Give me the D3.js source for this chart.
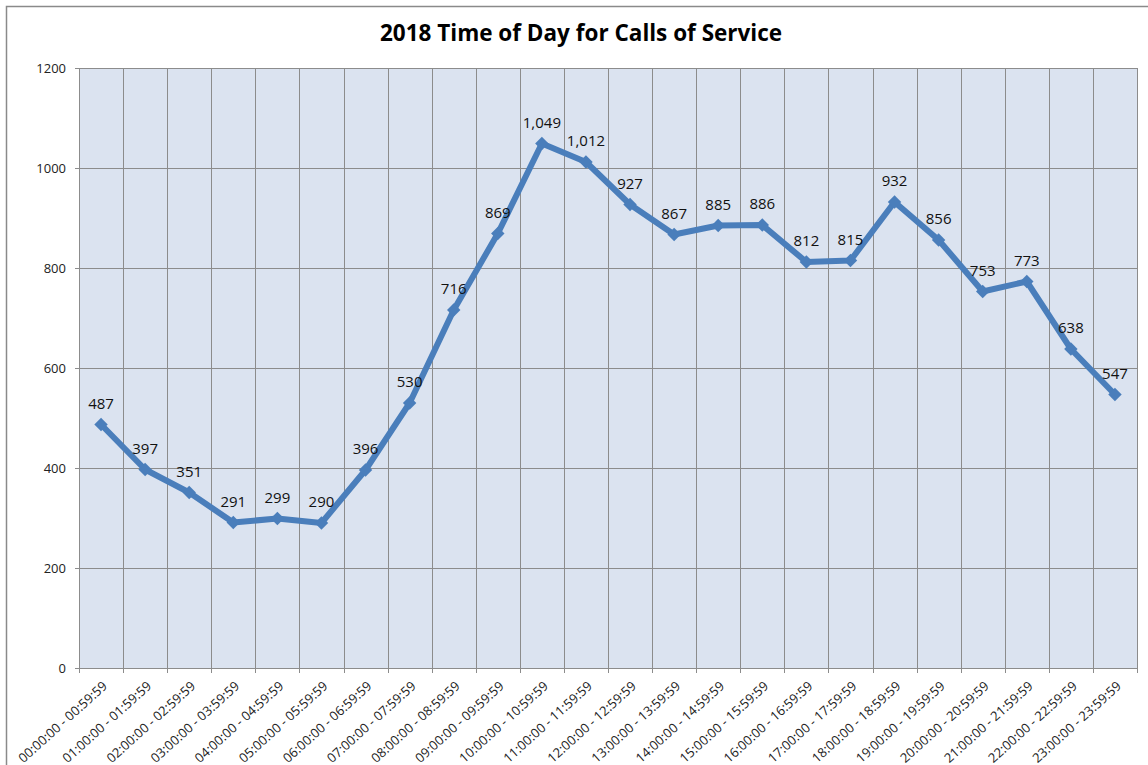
<!DOCTYPE html>
<html>
<head>
<meta charset="utf-8">
<script src="https://cdn.jsdelivr.net/npm/d3@7"></script>
<style>
  body { margin: 0; background: #fff; }
  text { font-family: "Open Sans", "Noto Sans", sans-serif; }
</style>
</head>
<body>
<div id="myChart"></div>
<script>
let width = 1148
let height = 765

// hourly buckets
const hours = ["00:00:00 - 00:59:59", "01:00:00 - 01:59:59", "02:00:00 - 02:59:59", "03:00:00 - 03:59:59",
  "04:00:00 - 04:59:59", "05:00:00 - 05:59:59", "06:00:00 - 06:59:59", "07:00:00 - 07:59:59",
  "08:00:00 - 08:59:59", "09:00:00 - 09:59:59", "10:00:00 - 10:59:59", "11:00:00 - 11:59:59",
  "12:00:00 - 12:59:59", "13:00:00 - 13:59:59", "14:00:00 - 14:59:59", "15:00:00 - 15:59:59",
  "16:00:00 - 16:59:59", "17:00:00 - 17:59:59", "18:00:00 - 18:59:59", "19:00:00 - 19:59:59",
  "20:00:00 - 20:59:59", "21:00:00 - 21:59:59", "22:00:00 - 22:59:59", "23:00:00 - 23:59:59"]
const calls = [487, 397, 351, 291, 299, 290, 396, 530, 716, 869, 1049, 1012,
  927, 867, 885, 886, 812, 815, 932, 856, 753, 773, 638, 547]
const yTicks = [0, 200, 400, 600, 800, 1000, 1200]

const margin = {top: 68, right: 10, bottom: 97, left: 79}
const plotW = 1137 - margin.left
const plotH = 668 - margin.top

let svg = d3.select("#myChart")
  .append("svg")
  .attr("width", width)
  .attr("height", height)

// outer chart border
svg.append("rect")
  .attr("x", 6.5).attr("y", 6.5)
  .attr("width", width + 10).attr("height", height + 10)
  .attr("fill", "#fff")
  .attr("stroke", "#8a8a8a")
  .attr("stroke-width", 1.5)

svg.append("text")
  .attr("x", 581)
  .attr("y", 41)
  .attr("text-anchor", "middle")
  .style("font-size", "22.5px")
  .style("font-weight", "bold")
  .attr("fill", "#000")
  .text("2018 Time of Day for Calls of Service")

let g = svg.append("g").attr("transform", `translate(${margin.left},${margin.top})`)

let x = d3.scaleBand().domain(hours).range([0, plotW])
let y = d3.scaleLinear().domain([0, 1200]).range([plotH, 0])

g.append("rect")
  .attr("width", plotW).attr("height", plotH)
  .attr("fill", "#dbe3f0")

// horizontal grid
g.append("g")
  .selectAll("line")
  .data(yTicks)
  .enter().append("line")
  .attr("x1", 0).attr("x2", plotW)
  .attr("y1", d => Math.round(y(d)) + 0.5)
  .attr("y2", d => Math.round(y(d)) + 0.5)
  .attr("stroke", "#8c8c8c")

// vertical grid at category boundaries
g.append("g")
  .selectAll("line")
  .data(d3.range(hours.length + 1))
  .enter().append("line")
  .attr("x1", i => Math.round(i * x.step()) + 0.5)
  .attr("x2", i => Math.round(i * x.step()) + 0.5)
  .attr("y1", 0).attr("y2", plotH + 5)
  .attr("stroke", "#8c8c8c")

// y axis
let yAxis = g.append("g")
  .call(d3.axisLeft(y).tickValues(yTicks).tickSize(4).tickPadding(9).tickFormat(d3.format("d")))
yAxis.select(".domain").attr("stroke", "#8c8c8c")
yAxis.selectAll(".tick line").attr("stroke", "#8c8c8c")
yAxis.selectAll("text")
  .style("font-size", "13px")
  .style("font-family", "'Open Sans', sans-serif")
  .attr("fill", "#222")

// x labels, rotated
g.append("g")
  .selectAll("text")
  .data(hours)
  .enter().append("text")
  .attr("transform", d => `translate(${x(d) + x.bandwidth() / 2 + 4},${plotH + 16}) rotate(-42)`)
  .attr("text-anchor", "end")
  .attr("dy", "0.35em")
  .style("font-size", "13px")
  .attr("fill", "#222")
  .text(d => d)

// the line
let line = d3.line()
  .x((d, i) => x(hours[i]) + x.bandwidth() / 2)
  .y(d => y(d))

g.append("path")
  .datum(calls)
  .attr("d", line)
  .attr("fill", "none")
  .attr("stroke", "#4a7ebb")
  .attr("stroke-width", 6)
  .attr("stroke-linejoin", "round")

g.append("g")
  .selectAll("path")
  .data(calls)
  .enter().append("path")
  .attr("d", d3.symbol().type(d3.symbolDiamond2).size(115))
  .attr("transform", (d, i) => `translate(${x(hours[i]) + x.bandwidth() / 2},${y(d)})`)
  .attr("fill", "#4a7ebb")

// data labels
g.append("g")
  .selectAll("text")
  .data(calls)
  .enter().append("text")
  .attr("x", (d, i) => x(hours[i]) + x.bandwidth() / 2)
  .attr("y", d => y(d) - 16)
  .attr("text-anchor", "middle")
  .style("font-size", "15px")
  .attr("fill", "#111")
  .text(d => d3.format(",")(d))
</script>
</body>
</html>
